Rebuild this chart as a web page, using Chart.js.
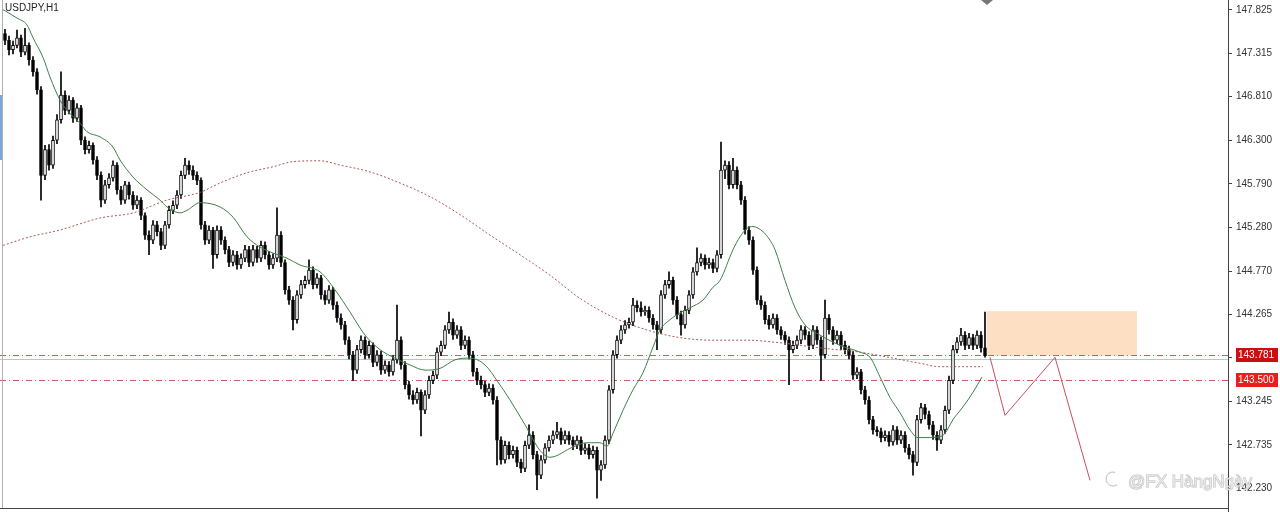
<!DOCTYPE html>
<html>
<head>
<meta charset="utf-8">
<title>USDJPY,H1</title>
<script src="https://cdn.jsdelivr.net/npm/chart.js@4/dist/chart.umd.min.js"></script>
<style>
    html, body { margin: 0; padding: 0; background: #fff; }
    #wrap { width: 1280px; height: 512px; position: relative; }
</style>
</head>
<body>
<div id="wrap"><canvas id="grafico"></canvas></div>
<script>
// Candles USDJPY H1 (one entry per bar, left to right)
const opens = [
    147.55,147.47,147.36,147.41,147.50,147.33,147.41,147.24,147.10,146.89,
    145.89,146.19,146.01,146.30,146.54,146.83,146.65,146.77,146.56,146.68,
    146.30,146.19,146.24,146.07,145.89,145.60,145.78,145.86,146.01,145.72,
    145.60,145.78,145.66,145.54,145.60,145.42,145.19,145.13,145.31,145.23,
    145.07,145.31,145.48,145.54,145.66,145.89,146.01,145.95,145.89,145.83,
    145.31,145.13,145.25,144.96,145.25,145.13,145.02,144.87,144.96,144.84,
    144.92,145.02,144.87,145.02,144.92,145.07,144.96,144.84,144.92,145.19,
    144.87,144.55,144.43,144.20,144.49,144.61,144.66,144.78,144.61,144.69,
    144.49,144.43,144.55,144.37,144.22,144.14,143.96,143.79,143.61,143.85,
    143.96,143.79,143.90,143.70,143.79,143.61,143.67,143.59,143.73,143.96,
    143.67,143.44,143.32,143.26,143.35,143.14,143.32,143.49,143.55,143.82,
    143.90,144.08,144.17,144.02,144.08,143.90,143.96,143.79,143.59,143.49,
    143.44,143.35,143.40,143.26,142.79,142.56,142.73,142.62,142.67,142.53,
    142.46,142.73,142.85,142.62,142.38,142.56,142.70,142.79,142.85,142.89,
    142.79,142.85,142.79,142.73,142.79,142.67,142.70,142.62,142.67,142.44,
    142.50,142.79,143.38,143.79,143.96,144.08,144.14,144.17,144.37,144.34,
    144.29,144.31,144.22,144.14,144.08,144.49,144.61,144.66,144.43,144.26,
    144.14,144.31,144.49,144.76,144.87,144.92,144.84,144.87,144.80,144.96,
    145.95,146.01,145.78,145.95,145.78,145.60,145.25,145.13,144.78,144.43,
    144.37,144.20,144.14,144.22,144.08,144.02,143.96,143.85,143.90,143.96,
    144.08,144.02,143.90,144.08,143.96,143.79,144.22,144.08,143.96,144.02,
    143.90,143.85,143.79,143.55,143.59,143.38,143.26,143.03,142.91,142.89,
    142.82,142.85,142.77,142.91,142.79,142.85,142.70,142.62,142.53,143.03,
    143.17,143.09,142.97,142.85,142.79,142.91,143.14,143.49,143.85,143.94,
    144.02,143.90,143.99,143.90,144.02,143.87
];
const highs = [
    147.60,147.52,147.46,147.59,147.53,147.61,147.44,147.28,147.14,146.93,
    146.24,146.25,146.35,146.60,147.10,146.88,146.82,146.80,146.73,146.71,
    146.34,146.29,146.27,146.11,145.93,145.83,145.91,146.06,146.04,145.76,
    145.82,145.81,145.70,145.65,145.63,145.45,145.24,145.36,145.35,145.27,
    145.35,145.53,145.59,145.71,145.94,146.09,146.06,146.00,145.93,145.86,
    145.35,145.30,145.28,145.30,145.29,145.17,145.06,145.01,145.00,144.97,
    145.07,145.06,145.07,145.06,145.12,145.11,145.00,144.97,145.51,145.23,
    144.90,144.59,144.47,144.54,144.66,144.71,144.90,144.82,144.74,144.72,
    144.54,144.60,144.58,144.41,144.27,144.18,144.00,143.83,143.90,144.01,
    144.00,143.95,143.93,143.84,143.83,143.72,143.71,143.78,144.37,144.00,
    143.71,143.48,143.37,143.40,143.38,143.37,143.54,143.60,143.87,143.95,
    144.13,144.29,144.21,144.13,144.12,144.01,144.00,143.83,143.63,143.54,
    143.48,143.45,143.44,143.30,142.83,142.78,142.77,142.72,142.71,142.57,
    142.78,142.97,142.89,142.66,142.61,142.75,142.84,142.90,143.00,142.93,
    142.90,142.89,142.83,142.84,142.83,142.75,142.74,142.72,142.71,142.55,
    142.84,143.43,143.84,144.01,144.13,144.19,144.22,144.45,144.42,144.41,
    144.36,144.35,144.26,144.18,144.54,144.66,144.76,144.70,144.47,144.30,
    144.36,144.54,144.81,145.04,144.97,144.96,144.92,144.91,145.01,146.28,
    146.06,146.05,146.09,145.99,145.82,145.64,145.29,145.17,144.82,144.48,
    144.41,144.25,144.27,144.26,144.12,144.06,144.00,143.95,144.01,144.13,
    144.12,144.06,144.13,144.12,144.00,144.43,144.26,144.12,144.07,144.06,
    143.95,143.89,143.83,143.64,143.62,143.42,143.30,143.07,142.95,142.93,
    142.90,142.89,142.96,142.95,142.90,142.89,142.74,142.66,143.08,143.22,
    143.21,143.13,143.01,142.89,142.96,143.19,143.54,143.90,143.99,144.10,
    144.06,144.04,144.03,144.07,144.06,144.29
];
const lows = [
    147.42,147.30,147.31,147.38,147.28,147.30,147.18,147.05,146.84,145.60,
    145.84,145.95,145.97,146.26,146.50,146.60,146.61,146.51,146.52,146.25,
    146.14,146.15,146.02,145.84,145.52,145.56,145.74,145.82,145.67,145.55,
    145.56,145.61,145.49,145.50,145.37,145.14,144.96,145.09,145.18,145.02,
    145.03,145.27,145.44,145.50,145.62,145.85,145.90,145.84,145.78,145.26,
    145.08,145.09,144.80,144.92,145.08,144.97,144.82,144.83,144.79,144.80,
    144.88,144.82,144.83,144.87,144.88,144.91,144.79,144.80,144.88,144.82,
    144.50,144.38,144.08,144.16,144.45,144.57,144.62,144.56,144.57,144.44,
    144.38,144.39,144.32,144.17,144.09,143.91,143.74,143.49,143.57,143.81,
    143.74,143.75,143.65,143.66,143.56,143.57,143.54,143.55,143.69,143.62,
    143.39,143.27,143.21,143.22,142.84,143.10,143.28,143.45,143.51,143.78,
    143.86,144.04,143.97,143.98,143.85,143.86,143.74,143.54,143.44,143.39,
    143.30,143.31,143.21,142.50,142.51,142.52,142.57,142.58,142.48,142.41,
    142.42,142.69,142.57,142.21,142.34,142.52,142.66,142.75,142.81,142.74,
    142.75,142.74,142.68,142.69,142.62,142.63,142.57,142.58,142.11,142.32,
    142.46,142.75,143.34,143.75,143.92,144.04,144.10,144.13,144.29,144.24,
    144.25,144.17,144.09,143.85,144.04,144.45,144.57,144.38,144.21,144.02,
    144.10,144.27,144.45,144.72,144.83,144.79,144.80,144.75,144.76,144.92,
    145.85,145.73,145.74,145.73,145.55,145.20,145.08,144.73,144.38,144.32,
    144.15,144.09,144.10,144.03,143.97,143.91,143.44,143.81,143.86,143.92,
    143.97,143.85,143.86,143.91,143.49,143.75,144.03,143.91,143.92,143.85,
    143.80,143.74,143.50,143.51,143.33,143.21,142.98,142.86,142.84,142.77,
    142.78,142.72,142.73,142.74,142.75,142.65,142.57,142.38,142.49,142.99,
    143.04,142.92,142.80,142.67,142.75,142.87,143.10,143.45,143.81,143.90,
    143.85,143.86,143.85,143.86,143.82,143.76
];
const closes = [
    147.47,147.36,147.41,147.50,147.33,147.41,147.24,147.10,146.89,145.89,
    146.19,146.01,146.30,146.54,146.83,146.65,146.77,146.56,146.68,146.30,
    146.19,146.24,146.07,145.89,145.60,145.78,145.86,146.01,145.72,145.60,
    145.78,145.66,145.54,145.60,145.42,145.19,145.13,145.31,145.23,145.07,
    145.31,145.48,145.54,145.66,145.89,146.01,145.95,145.89,145.83,145.31,
    145.13,145.25,144.96,145.25,145.13,145.02,144.87,144.96,144.84,144.92,
    145.02,144.87,145.02,144.92,145.07,144.96,144.84,144.92,145.19,144.87,
    144.55,144.43,144.20,144.49,144.61,144.66,144.78,144.61,144.69,144.49,
    144.43,144.55,144.37,144.22,144.14,143.96,143.79,143.61,143.85,143.96,
    143.79,143.90,143.70,143.79,143.61,143.67,143.59,143.73,143.96,143.67,
    143.44,143.32,143.26,143.35,143.14,143.32,143.49,143.55,143.82,143.90,
    144.08,144.17,144.02,144.08,143.90,143.96,143.79,143.59,143.49,143.44,
    143.35,143.40,143.26,142.79,142.56,142.73,142.62,142.67,142.53,142.46,
    142.73,142.85,142.62,142.38,142.56,142.70,142.79,142.85,142.89,142.79,
    142.85,142.79,142.73,142.79,142.67,142.70,142.62,142.67,142.44,142.50,
    142.79,143.38,143.79,143.96,144.08,144.14,144.17,144.37,144.34,144.29,
    144.31,144.22,144.14,144.08,144.49,144.61,144.66,144.43,144.26,144.14,
    144.31,144.49,144.76,144.87,144.92,144.84,144.87,144.80,144.96,145.95,
    146.01,145.78,145.95,145.78,145.60,145.25,145.13,144.78,144.43,144.37,
    144.20,144.14,144.22,144.08,144.02,143.96,143.85,143.90,143.96,144.08,
    144.02,143.90,144.08,143.96,143.79,144.22,144.08,143.96,144.02,143.90,
    143.85,143.79,143.55,143.59,143.38,143.26,143.03,142.91,142.89,142.82,
    142.85,142.77,142.91,142.79,142.85,142.70,142.62,142.53,143.03,143.17,
    143.09,142.97,142.85,142.79,142.91,143.14,143.49,143.85,143.94,144.02,
    143.90,143.99,143.90,144.02,143.87,143.78
];

// Media movel curta (verde), lida em pontos: indice da barra / preco
const maCurtaX = [-0.5,3,5.5,7,9.5,11.25,13.75,15.5,18.75,20.5,23.75,27,28.75,32,35.5,38.75,40.5,43.75,45.5,48.75,
    53.75,57,60.5,63.75,67,70.5,73.75,78.75,82.5,86.25,90,93.75,97.5,101.25,105,108.75,112.5,116.25,120,123.25,
    126.25,130,133.75,136.25,142,145.5,148.75,150.5,152,154.5,157,159.5,162,163.75,166.25,168.75,171.25,174.5,177,178.75,
    182,183.75,185.5,187,189.5,191.25,192.5,195,197.5,200,203.75,208.75,213.75,216.25,218.75,221.25,223.75,226.25,228.25,230.5,
    233.75,235,237,239.5,242,244.25];
const maCurtaY = [147.83,147.73,147.65,147.50,147.27,147.04,146.77,146.65,146.50,146.40,146.34,146.22,146.07,145.87,145.72,145.60,145.52,145.45,145.48,145.57,
    145.52,145.40,145.17,145.05,144.98,144.92,144.84,144.76,144.55,144.29,144.02,143.85,143.75,143.67,143.61,143.63,143.73,143.75,143.67,143.47,
    143.26,142.97,142.67,142.59,142.71,142.76,142.76,142.72,142.87,143.14,143.38,143.58,143.88,144.08,144.20,144.28,144.34,144.43,144.58,144.66,
    145.02,145.17,145.27,145.29,145.23,145.13,145.02,144.66,144.34,144.14,144.02,143.90,143.82,143.76,143.53,143.29,143.11,142.91,142.82,142.82,
    142.83,142.87,143.03,143.18,143.35,143.53];

// Media movel longa (pontilhada vermelha)
const maLongaX = [-0.5,6.25,13.75,23.75,32,40.5,48.75,53.75,60.5,67,72,78.75,83.75,91.25,98.75,106.25,113.75,121.25,128.75,136.25,
    143.75,152,160.5,168.75,177,185.5,193.75,203.75,213.75,222,228.75,233.75,244.5];
const maLongaY = [145.07,145.17,145.25,145.39,145.45,145.60,145.69,145.80,145.92,145.99,146.05,146.06,146.01,145.93,145.80,145.64,145.43,145.19,144.96,144.72,
    144.45,144.23,144.08,143.99,143.96,143.96,143.93,143.87,143.82,143.75,143.69,143.65,143.65];

// Projecao desenhada (zigue-zague)
const projecaoX = [246.25, 250, 262.5, 271.25];
const projecaoY = [143.76, 143.08, 143.76, 142.32];

// Zona de venda e niveis
const zona = { inicio: 245.4, fim: 283, topo: 144.30, base: 143.781 };
const niveis = [143.781, 143.500];
const linhaBid = 143.74;

// Escala de precos
const ticksPreco = [147.825, 147.315, 146.810, 146.300, 145.790, 145.280, 144.770, 144.265, 143.755, 143.245, 142.735, 142.230];
const precoMin = 141.996;
const precoMax = 147.942;

const simbolo = 'USDJPY,H1';
const marcaAgua = '@FX HàngNgày';

// Montar dados para o Chart.js
const pavios = closes.map((c, i) => ({ x: i, y: [lows[i], highs[i]] }));
const corpos = closes.map((c, i) => ({ x: i, y: [opens[i], c] }));
const corCorpo = closes.map((c, i) => c >= opens[i] ? '#ffffff' : '#000000');
const pontos = (xs, ys) => xs.map((x, i) => ({ x: x, y: ys[i] }));

const desenhos = {
    id: 'desenhos',
    beforeDatasetsDraw(chart) {
        const { ctx, chartArea: a, scales: { x, y } } = chart;
        ctx.save();
        // zona laranja
        const x0 = x.getPixelForValue(zona.inicio), x1 = x.getPixelForValue(zona.fim);
        const y0 = y.getPixelForValue(zona.topo), y1 = y.getPixelForValue(zona.base);
        ctx.fillStyle = '#fde0c3';
        ctx.fillRect(x0, y0, x1 - x0, y1 - y0);

        // linha bid
        let yb = Math.round(y.getPixelForValue(linhaBid)) + 0.5;
        ctx.strokeStyle = '#cdbcbc';
        ctx.lineWidth = 1;
        ctx.beginPath();
        ctx.moveTo(a.left, yb);
        ctx.lineTo(a.right, yb);
        ctx.stroke();

        // niveis tracejados
        ctx.strokeStyle = '#cf5c5c';
        ctx.setLineDash([6, 3, 1, 3]);
        niveis.forEach(v => {
            const yy = Math.round(y.getPixelForValue(v)) + 0.5;
            ctx.beginPath();
            ctx.moveTo(a.left, yy);
            ctx.lineTo(a.right, yy);
            ctx.stroke();
        });
        ctx.restore();
    },
    afterDraw(chart) {
        const { ctx, chartArea: a, scales: { y } } = chart;
        ctx.save();
        // bordas
        ctx.strokeStyle = '#444';
        ctx.lineWidth = 1;
        ctx.beginPath();
        ctx.moveTo(a.left, a.bottom + 0.5);
        ctx.lineTo(a.right, a.bottom + 0.5);
        ctx.moveTo(a.right + 0.5, 0);
        ctx.lineTo(a.right + 0.5, chart.height);
        ctx.stroke();
        ctx.strokeStyle = '#b0b0b0';
        ctx.beginPath();
        ctx.moveTo(2.5, 0);
        ctx.lineTo(2.5, a.bottom);
        ctx.stroke();
        ctx.fillStyle = '#7aa6d6';
        ctx.fillRect(0, 95, 2, 65);

        // titulo
        ctx.fillStyle = '#222';
        ctx.font = '10px "Liberation Sans", Arial, sans-serif';
        ctx.textBaseline = 'top';
        ctx.textAlign = 'left';
        ctx.fillText(simbolo, 5, 3);

        // marcador no topo
        ctx.fillStyle = '#777';
        ctx.beginPath();
        ctx.moveTo(981, 0);
        ctx.lineTo(993, 0);
        ctx.lineTo(987, 5);
        ctx.closePath();
        ctx.fill();

        // etiquetas vermelhas no eixo
        const cores = ['#c81010', '#ee1c1c'];
        niveis.forEach((v, i) => {
            const yy = Math.round(y.getPixelForValue(v));
            ctx.fillStyle = cores[i];
            ctx.fillRect(a.right + 8, yy - 7, 42, 14);
            ctx.fillStyle = '#ffffff';
            ctx.textBaseline = 'middle';
            ctx.fillText(v.toFixed(3), a.right + 10, yy + 0.5);
        });

        // marca d'agua
        ctx.font = '17px "Liberation Sans", Arial, sans-serif';
        ctx.textBaseline = 'alphabetic';
        ctx.lineWidth = 1;
        ctx.strokeStyle = 'rgba(170,170,170,0.8)';
        ctx.fillStyle = 'rgba(235,235,235,0.9)';
        ctx.strokeText(marcaAgua, 1128, 487);
        ctx.fillText(marcaAgua, 1128, 487);
        ctx.beginPath();
        ctx.arc(1113, 479, 7, 0.3 * Math.PI, 1.6 * Math.PI);
        ctx.stroke();
        ctx.restore();
    }
};

const ctx = document.getElementById('grafico').getContext('2d');
const chart = new Chart(ctx, {
    type: 'bar',
    data: {
        datasets: [
            {
                type: 'line',
                data: pontos(maCurtaX, maCurtaY),
                borderColor: '#3f7f46',
                borderWidth: 1,
                pointRadius: 0,
                cubicInterpolationMode: 'monotone',
                order: 0
            },
            {
                type: 'line',
                data: pontos(maLongaX, maLongaY),
                borderColor: '#a85a5a',
                borderWidth: 1,
                borderDash: [2, 2],
                pointRadius: 0,
                cubicInterpolationMode: 'monotone',
                order: 0
            },
            {
                type: 'line',
                data: pontos(projecaoX, projecaoY),
                borderColor: '#c4505e',
                borderWidth: 1,
                pointRadius: 0,
                tension: 0,
                order: 0
            },
            {
                data: corpos,
                backgroundColor: corCorpo,
                borderColor: '#000',
                borderWidth: 1,
                borderSkipped: false,
                barThickness: 3,
                grouped: false,
                order: 1
            },
            {
                data: pavios,
                backgroundColor: '#000',
                barThickness: 1,
                grouped: false,
                order: 2
            }
        ]
    },
    options: {
        responsive: true,
        maintainAspectRatio: false,
        animation: false,
        devicePixelRatio: 1,
        layout: { padding: { top: 0, left: 0, right: 0, bottom: 4 } },
        scales: {
            x: {
                type: 'linear',
                min: -1.25,
                max: 305.75,
                offset: false,
                display: false
            },
            y: {
                position: 'right',
                min: precoMin,
                max: precoMax,
                border: { color: '#444', width: 1 },
                grid: { drawOnChartArea: false, drawTicks: true, tickLength: 4, color: '#444' },
                ticks: {
                    autoSkip: false,
                    color: '#333',
                    padding: 4,
                    font: { family: 'Liberation Sans', size: 10 },
                    callback: v => Number(v).toFixed(3)
                },
                afterBuildTicks: s => { s.ticks = ticksPreco.map(v => ({ value: v })); },
                afterFit: s => { s.width = 52; s.paddingTop = 0; s.paddingBottom = 0; }
            }
        },
        plugins: {
            legend: { display: false },
            tooltip: { enabled: false }
        }
    },
    plugins: [desenhos]
});
</script>
</body>
</html>
